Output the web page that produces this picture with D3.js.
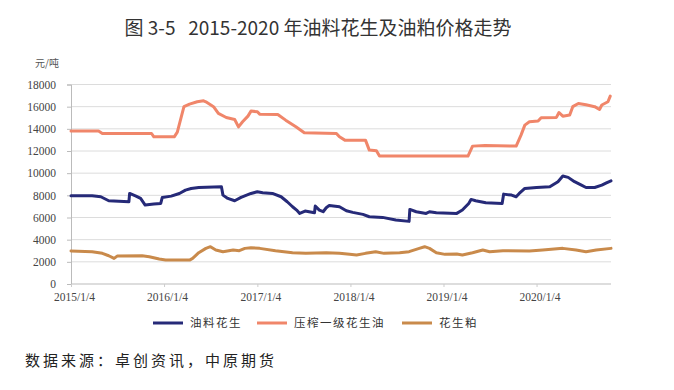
<!DOCTYPE html>
<html>
<head>
<meta charset="utf-8">
<script src="https://cdn.jsdelivr.net/npm/d3@7"></script>
<style>
  body { margin: 0; background: #fff; }
  svg text { fill: #333; }
</style>
</head>
<body>
<div id="chart"></div>
<script>
const seriesNames = ["油料花生", "压榨一级花生油", "花生粕"];
const seriesColors = ["#262a78", "#f0866a", "#c98a4b"];

const yTicks = [0, 2000, 4000, 6000, 8000, 10000, 12000, 14000, 16000, 18000];
const xTickDates = ["2015-01-04", "2016-01-04", "2017-01-04", "2018-01-04", "2019-01-04", "2020-01-04"];
const xTickLabels = ["2015/1/4", "2016/1/4", "2017/1/4", "2018/1/4", "2019/1/4", "2020/1/4"];

// 油料花生
const peanutDates = ["2015-01-04","2015-03-28","2015-05-01","2015-06-01","2015-08-19","2015-08-22","2015-09-16","2015-10-04","2015-10-22","2015-11-25","2015-12-22","2015-12-28","2016-02-01","2016-03-04","2016-03-28","2016-04-19","2016-05-19","2016-08-16","2016-08-22","2016-09-10","2016-10-07","2016-11-01","2016-12-10","2017-01-04","2017-01-25","2017-03-04","2017-04-07","2017-05-01","2017-05-22","2017-06-07","2017-06-19","2017-07-10","2017-08-16","2017-08-19","2017-09-04","2017-09-19","2017-10-01","2017-10-13","2017-11-22","2017-12-19","2018-01-13","2018-02-22","2018-03-19","2018-05-10","2018-07-01","2018-08-22","2018-08-25","2018-09-19","2018-10-28","2018-11-10","2018-12-07","2019-02-25","2019-03-19","2019-04-13","2019-04-22","2019-05-10","2019-06-19","2019-08-22","2019-08-28","2019-09-28","2019-10-16","2019-10-28","2019-11-19","2020-01-04","2020-02-25","2020-03-28","2020-04-16","2020-05-07","2020-06-01","2020-06-28","2020-07-16","2020-08-19","2020-09-16","2020-10-04","2020-10-22"];
const peanutValues = [7960,7960,7870,7510,7420,8170,7930,7720,7120,7210,7270,7810,7930,8170,8470,8620,8710,8770,8020,7720,7510,7810,8170,8320,8230,8170,7870,7420,6970,6670,6370,6580,6430,7030,6670,6520,6880,7090,6970,6610,6460,6280,6070,6010,5770,5650,6730,6520,6370,6520,6430,6370,6670,7270,7630,7510,7330,7270,8110,8020,7870,8170,8620,8710,8770,9230,9740,9620,9230,8920,8710,8710,8920,9130,9315];

// 压榨一级花生油
const oilDates = ["2015-01-04","2015-04-22","2015-05-07","2015-11-16","2015-11-25","2016-02-13","2016-02-25","2016-03-22","2016-04-13","2016-05-13","2016-06-07","2016-06-16","2016-07-16","2016-08-04","2016-09-04","2016-10-07","2016-10-22","2016-11-07","2016-11-28","2016-12-10","2017-01-04","2017-01-13","2017-03-25","2017-04-25","2017-06-04","2017-07-07","2017-11-10","2017-11-22","2017-12-13","2018-03-04","2018-03-19","2018-04-16","2018-04-28","2019-04-10","2019-04-28","2019-06-16","2019-10-16","2019-11-04","2019-11-19","2019-12-07","2020-01-10","2020-01-22","2020-03-22","2020-04-01","2020-04-16","2020-05-13","2020-05-25","2020-06-16","2020-07-16","2020-08-19","2020-09-07","2020-09-16","2020-10-10","2020-10-19"];
const oilValues = [13800,13800,13580,13580,13280,13280,13700,16000,16230,16440,16530,16440,16000,15390,15025,14845,14180,14635,15145,15600,15540,15325,15300,14785,14180,13640,13580,13280,12980,12980,12080,12020,11540,11540,12440,12500,12440,13430,14335,14635,14700,15000,15030,15475,15145,15240,16000,16290,16170,16000,15750,16150,16440,16950];

// 花生粕
const mealDates = ["2015-01-04","2015-03-28","2015-05-07","2015-06-01","2015-06-22","2015-07-04","2015-10-10","2015-11-07","2015-12-16","2016-01-10","2016-04-13","2016-04-25","2016-05-19","2016-06-16","2016-07-04","2016-07-25","2016-08-22","2016-10-01","2016-10-25","2016-11-16","2016-12-10","2017-01-13","2017-03-16","2017-05-22","2017-07-13","2017-10-01","2017-11-22","2018-01-01","2018-01-28","2018-03-04","2018-04-13","2018-05-16","2018-07-16","2018-08-22","2018-10-01","2018-10-22","2018-11-10","2018-12-07","2019-01-10","2019-02-25","2019-03-19","2019-04-28","2019-06-07","2019-07-04","2019-08-25","2019-12-07","2020-01-28","2020-04-16","2020-06-07","2020-07-16","2020-08-25","2020-10-22"];
const mealValues = [2975,2915,2765,2550,2310,2520,2550,2460,2250,2160,2160,2310,2825,3215,3365,3065,2915,3065,3005,3215,3275,3215,3005,2825,2765,2825,2765,2675,2615,2765,2915,2765,2825,2915,3215,3365,3215,2825,2675,2705,2615,2825,3065,2915,3005,2975,3065,3215,3065,2915,3065,3215];

const parse = d3.timeParse("%Y-%m-%d");
const series = [
  { dates: peanutDates, values: peanutValues },
  { dates: oilDates, values: oilValues },
  { dates: mealDates, values: mealValues },
].map((s, i) => ({
  name: seriesNames[i],
  color: seriesColors[i],
  points: s.dates.map((d, j) => ({ date: parse(d), value: s.values[j] })),
}));

const width = 674, height = 390;
const svg = d3.select("#chart").append("svg")
  .attr("width", width).attr("height", height)
  .style("font-family", "'Liberation Serif', serif");

const x = d3.scaleTime()
  .domain([parse("2015-01-04"), parse("2020-10-22")])
  .range([71, 611]);
const y = d3.scaleLinear().domain([0, 18000]).range([284, 84.5]);

// title
svg.append("text")
  .attr("x", 318).attr("y", 35)
  .attr("text-anchor", "middle")
  .style("font-family", "'Noto Sans CJK SC', sans-serif")
  .style("font-size", "19px")
  .style("white-space", "pre")
  .text("图 3-5   2015-2020 年油料花生及油粕价格走势");

// unit
svg.append("text")
  .attr("x", 35).attr("y", 67)
  .style("font-family", "'Noto Sans CJK SC', sans-serif")
  .style("font-size", "10px")
  .style("fill", "#555")
  .text("元/吨");

// gridlines
svg.append("g")
  .selectAll("line")
  .data(yTicks.filter(d => d > 0))
  .join("line")
  .attr("x1", 71).attr("x2", 611)
  .attr("y1", d => y(d)).attr("y2", d => y(d))
  .attr("stroke", "#dcdcdc").attr("stroke-width", 1);

// y axis
const yAxis = svg.append("g")
  .attr("transform", "translate(71,0)")
  .call(d3.axisLeft(y).tickValues(yTicks).tickSize(4).tickPadding(11).tickFormat(d3.format("d")));
yAxis.select(".domain").attr("stroke", "#bbb");
yAxis.selectAll(".tick line").attr("stroke", "#bbb");
yAxis.selectAll("text").style("font-size", "11.5px").style("fill", "#444")
  .style("font-family", "'Liberation Serif', serif");

// x axis
const xAxis = svg.append("g")
  .attr("transform", `translate(0,${y(0)})`)
  .call(d3.axisBottom(x)
    .tickValues(xTickDates.map(parse))
    .tickSize(3).tickPadding(6)
    .tickFormat((d, i) => xTickLabels[i]));
xAxis.select(".domain").attr("stroke", "#bbb").attr("d", "M71,0H611");
xAxis.selectAll(".tick line").attr("stroke", "#ccc");
xAxis.selectAll("text").style("font-size", "11.5px").style("fill", "#444")
  .style("font-family", "'Liberation Serif', serif")
  .attr("dx", 3);

// lines
const line = d3.line().x(d => x(d.date)).y(d => y(d.value));
svg.append("g")
  .selectAll("path")
  .data(series)
  .join("path")
  .attr("d", d => line(d.points))
  .attr("fill", "none")
  .attr("stroke", d => d.color)
  .attr("stroke-width", 3)
  .attr("stroke-linejoin", "round")
  .attr("stroke-linecap", "round");

// legend
const legendX = [153, 257, 402];
const legend = svg.append("g")
  .selectAll("g")
  .data(series)
  .join("g")
  .attr("transform", (d, i) => `translate(${legendX[i]},323)`);
legend.append("line")
  .attr("x1", 0).attr("x2", 30)
  .attr("stroke", d => d.color).attr("stroke-width", 3);
legend.append("text")
  .attr("x", 37).attr("y", 4)
  .style("font-family", "'Noto Sans CJK SC', sans-serif")
  .style("font-size", "11.5px")
  .style("letter-spacing", "1.5px")
  .text(d => d.name);

// source
svg.append("text")
  .attr("x", 25).attr("y", 366)
  .style("font-family", "'Noto Sans CJK SC', sans-serif")
  .style("font-size", "15px")
  .style("letter-spacing", "3px")
  .style("fill", "#222")
  .text("数据来源：卓创资讯，中原期货");
</script>
</body>
</html>
